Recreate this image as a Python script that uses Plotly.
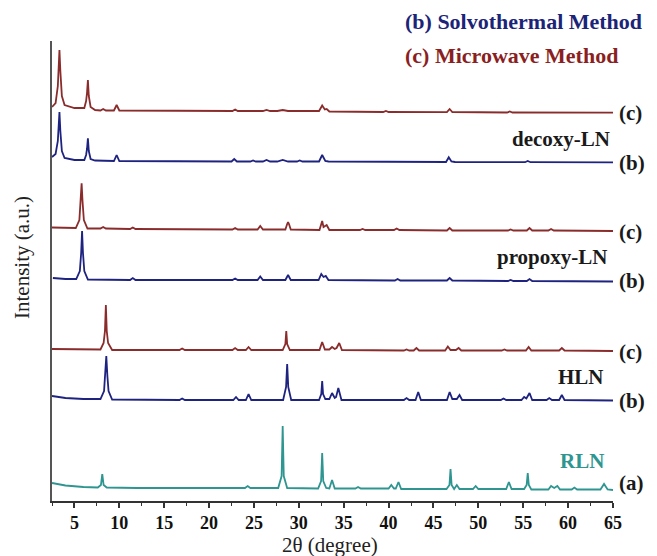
import plotly.graph_objects as go

# 2-theta (degree) vs intensity (a.u., stacked) key points
RLN_a = [(2.5,18),(4,15.5),(6,14),(7.6,13.5),(7.95,16),(8.1,27),(8.25,16),(8.6,13.5),(12,13),(20,13),
         (24.0,13),(24.3,15),(24.6,13),(27.7,13),(28.08,25),(28.2,75),(28.32,25),(28.7,13),
         (32.15,12.5),(32.48,20),(32.6,48),(32.72,20),(33.05,13),(33.4,12.5),(33.7,21),(34.0,12.5),
         (36.3,12.5),(36.6,14),(36.9,12.5),(40.0,12.5),(40.3,16),(40.6,12.5),(40.8,12.5),(41.1,19),(41.4,12),
         (46.45,12),(46.78,16),(46.9,32),(47.02,16),(47.3,12),(47.6,16),(47.9,12),(49.4,12),(49.7,15),(50.0,12),
         (53.1,12),(53.4,19),(53.7,12),(55.1,12),(55.38,16),(55.5,28),(55.62,16),(55.9,11.5),
         (57.8,11.5),(58.1,15),(58.45,13),(58.8,15),(59.1,11.5),(60.4,11.5),(60.7,13.5),(61.0,11.5),
         (63.6,11.5),(64.0,17),(64.4,11.5),(65,11)]

HLN_b = [(2.5,105),(4,103),(6,102),(7.9,102),(8.3,110),(8.43,125),(8.55,145),(8.67,125),(8.8,110),(9.2,101.5),
         (16.7,101),(17,102.5),(17.3,101),(22.7,101),(23,104),(23.3,101),(24.1,101),(24.4,107),(24.7,101),
         (28.25,101),(28.58,114),(28.7,137),(28.82,114),(29.15,101),
         (32.25,101),(32.5,107),(32.6,120),(32.7,107),(32.95,102),(33.4,102),(33.7,108),(34.0,103),
         (34.15,104),(34.4,113),(34.75,101),(41.7,101),(42,103),(42.3,101),(43.0,101),(43.3,109),(43.6,101),
         (46.5,101),(46.8,109),(47.1,102),(47.6,102),(47.9,106),(48.2,101),(52.5,101),(52.8,102.5),(53.1,101),
         (54.8,101),(55.1,104),(55.35,102.5),(55.7,108),(56.0,101),(57.6,101),(57.9,103),(58.2,101),
         (59.0,101),(59.3,106),(59.6,101),(65,100.5)]

HLN_c = [(2.5,152),(5,151.5),(7.9,151.5),(8.25,158),(8.4,170),(8.5,196),(8.6,170),(8.75,158),(9.2,151),
         (16.7,151),(17,152.5),(17.3,151),(22.6,151),(22.9,153),(23.2,151),(24.1,151),(24.4,154),(24.7,151),
         (28.2,151),(28.5,157),(28.6,170),(28.7,157),(29.0,151),(32.3,151),(32.6,159),(32.9,151.5),
         (33.4,151.5),(33.7,154),(34.0,152),(34.2,153),(34.5,158),(34.8,151),(41.7,150.5),(42,151.5),(42.3,150.5),
         (42.8,150.5),(43.1,153),(43.4,150.5),(46.3,150.5),(46.6,154.5),(46.9,151),(47.5,151),(47.8,153),
         (48.1,150.5),(52.6,150.5),(52.9,151.5),(53.2,150.5),(55.3,150.5),(55.6,154),(55.9,150.5),
         (59.0,150.5),(59.3,153),(59.6,150.5),(65,150)]

PROPOXY_b = [(2.6,223),(4,222),(5.2,222),(5.6,230),(5.75,248),(5.85,270),(5.95,248),(6.1,230),(6.5,221.5),
             (11.2,221),(11.5,223),(11.8,221),(22.6,221),(22.9,222.5),(23.2,221),(25.4,221),(25.7,224.5),(26.0,221),
             (28.5,221),(28.8,226),(29.1,221),(32.2,221),(32.5,227),(32.75,224),(33.0,225),(33.3,221),
             (40.7,220.5),(41.0,222),(41.3,220.5),(46.5,220.5),(46.8,223),(47.1,220.5),(53.3,220),(53.6,221),
             (53.9,220),(55.4,220),(55.7,222),(56.0,220),(65,219.5)]

PROPOXY_c = [(2.5,273.5),(4,273),(5.15,273),(5.55,281),(5.7,300),(5.8,317.7),(5.9,300),(6.05,281),(6.45,272.5),
             (7.9,272.5),(8.2,274),(8.5,272.5),(11.2,272),(11.5,273.5),(11.8,272),(22.6,271.5),(22.9,273),(23.2,271.5),
             (25.4,271.5),(25.7,275),(26.0,271.5),(28.5,271.5),(28.7,277),(28.8,279),(28.9,277),(29.1,271.5),
             (32.3,271),(32.5,277),(32.6,280),(32.75,274),(33.1,276),(33.4,271),(36.8,271),(37.1,272),(37.4,271),
             (40.6,271),(40.9,272.5),(41.2,271),(46.5,270.5),(46.8,273),(47.1,270.5),(53.3,270.5),(53.6,271.5),
             (53.9,270.5),(55.4,270.5),(55.7,273),(56.0,270.5),(57.8,270.5),(58.1,272),(58.4,270.5),(65,270)]

DECOXY_b = [(2.5,344),(2.9,347),(3.15,360),(3.25,375),(3.33,389),(3.43,370),(3.6,350),(3.9,343),(5,341),
            (6.1,341),(6.3,346),(6.4,352),(6.5,362.7),(6.6,350),(6.8,342),(7.3,340.5),(9.4,340),(9.7,346),(10.0,340),
            (22.5,339.5),(22.8,342),(23.1,339.5),(24.6,339.5),(24.9,340.5),(25.2,339.5),(26.0,339.5),(26.4,341),
            (26.8,339.5),(27.6,339.5),(28.2,341),(28.8,339.5),(29.8,339.5),(30.1,340.5),(30.4,339.5),
            (32.25,339.5),(32.6,346),(32.95,340),(33.3,339.5),(46.4,339),(46.7,343.7),(47.0,339.5),(47.4,339),
            (55.2,338.8),(55.5,340),(55.8,338.8),(65,338.7)]

DECOXY_c = [(2.5,394),(2.9,398),(3.15,415),(3.25,435),(3.33,451),(3.43,430),(3.6,405),(3.9,396),(5,393),
            (6.1,393),(6.3,400),(6.4,408),(6.5,421),(6.6,405),(6.8,394),(7.3,391),(7.9,390.5),(8.2,392),(8.5,390.5),
            (9.4,390.5),(9.7,396),(10.0,390.5),(22.6,390),(22.9,391.5),(23.2,390),(26.0,390),(26.4,391),(26.8,390),
            (27.6,390),(28.2,391),(28.8,390),(32.25,390),(32.6,395.5),(32.9,391.5),(33.1,392),(33.4,389.5),
            (39.4,389),(39.7,390),(40.0,389),(46.5,388.8),(46.8,392),(47.1,389),(53.2,388.5),(53.5,389.5),
            (53.8,388.5),(65,388.3)]

X_TICKS = [5, 10, 15, 20, 25, 30, 35, 40, 45, 50, 55, 60, 65]

RED = "#8a2c2c"
BLUE = "#1f2380"
TEAL = "#2e9590"

series = [
    (RLN_a, TEAL), (HLN_b, BLUE), (HLN_c, RED),
    (PROPOXY_b, BLUE), (PROPOXY_c, RED), (DECOXY_b, BLUE), (DECOXY_c, RED),
]

fig = go.Figure()
for pts, col in series:
    xs = [p[0] for p in pts]
    ys = [p[1] for p in pts]
    fig.add_trace(go.Scatter(x=xs, y=ys, mode="lines", line=dict(color=col, width=1.8),
                             showlegend=False, hoverinfo="skip"))

SERIF = "Liberation Serif"
W, H = 657, 556
ML, MR, MT, MB = 52, 44, 41, 55
pw = W - ML - MR
ph = H - MT - MB

def px(xp):
    return (xp - ML) / pw

def py(yp):
    return (H - MB - yp) / ph

ann = []
def lab(text, xp, yp, anchor="left", color="#1a1a1a", size=21):
    ann.append(dict(text="<b>" + text + "</b>", x=px(xp), y=py(yp), xref="paper", yref="paper",
                    xanchor=anchor, yanchor="middle", showarrow=False,
                    font=dict(family=SERIF, size=size, color=color)))

lab("(c)", 617, 113)
lab("decoxy-LN", 612, 139, anchor="right")
lab("(b)", 617, 163)
lab("(c)", 617, 232)
lab("propoxy-LN", 609, 257, anchor="right")
lab("(b)", 617, 281)
lab("(c)", 617, 352)
lab("HLN", 606, 377, anchor="right")
lab("(b)", 617, 401)
lab("RLN", 606, 461, anchor="right", color=TEAL)
lab("(a)", 617, 483)
lab("(b) Solvothermal Method", 403, 22, color="#1c2478", size=22)
lab("(c) Microwave Method", 403, 55, color="#8b1e1e", size=22)

ann.append(dict(text="2θ (degree)", x=px(330), y=py(545), xref="paper", yref="paper",
                xanchor="center", yanchor="middle", showarrow=False,
                font=dict(family=SERIF, size=21, color="#222")))
ann.append(dict(text="Intensity (a.u.)", x=px(22), y=py(258), xref="paper", yref="paper",
                xanchor="center", yanchor="middle", showarrow=False, textangle=-90,
                font=dict(family=SERIF, size=21, color="#222")))

fig.update_layout(
    width=W, height=H,
    margin=dict(l=ML, r=MR, t=MT, b=MB),
    paper_bgcolor="white", plot_bgcolor="white",
    annotations=ann,
    xaxis=dict(range=[2.5, 65], tickmode="array", tickvals=X_TICKS,
               ticktext=["<b>" + str(v) + "</b>" for v in X_TICKS],
               showline=True, linecolor="#333", linewidth=1.5, ticks="outside", ticklen=5,
               tickwidth=1.5, tickcolor="#333",
               minor=dict(ticks="outside", tickmode="array", tickvals=[2.5 + 5 * i for i in range(13)],
                          ticklen=3, tickwidth=1.3, tickcolor="#333"),
               tickfont=dict(family=SERIF, size=18, color="#111"),
               showgrid=False, zeroline=False),
    yaxis=dict(range=[0, 460], showline=True, linecolor="#555", linewidth=1.5, ticks="",
               showticklabels=False, showgrid=False, zeroline=False),
)

fig.write_html("out.html")
